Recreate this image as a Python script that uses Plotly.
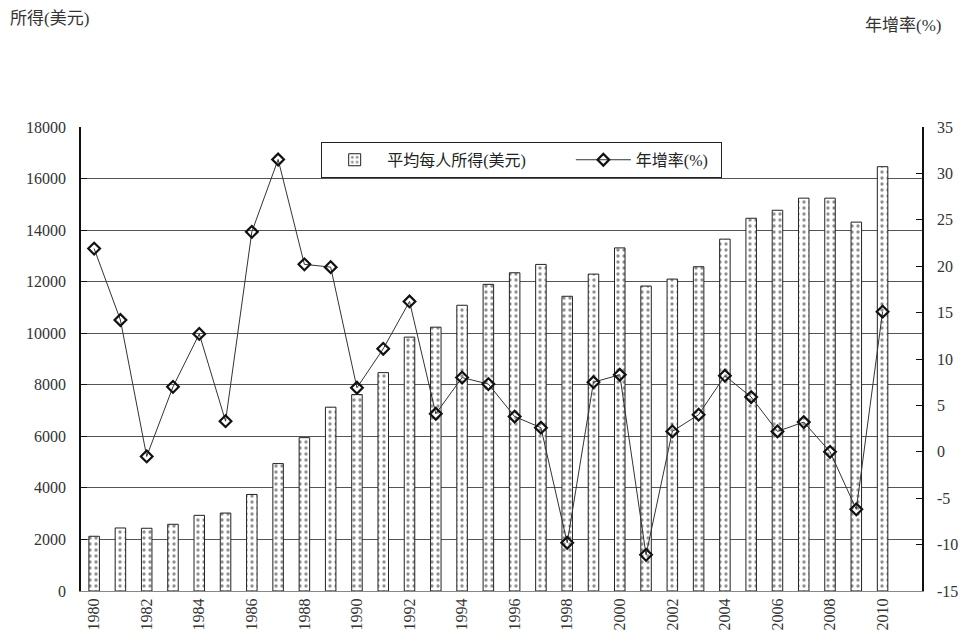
import plotly.graph_objects as go

# Per-capita income (USD) and annual growth rate (%), 1980-2010
years = list(range(1980, 2011))
income = [2123, 2445, 2433, 2587, 2935, 3024, 3746, 4943, 5948, 7131,
          7621, 8471, 9849, 10235, 11085, 11896, 12345, 12669, 11433, 12294,
          13310, 11831, 12100, 12580, 13650, 14460, 14770, 15240, 15240, 14310,
          16460]
growth = [21.9, 14.2, -0.5, 7.0, 12.7, 3.3, 23.7, 31.5, 20.2, 19.9,
          6.9, 11.1, 16.2, 4.1, 8.0, 7.3, 3.8, 2.6, -9.8, 7.5,
          8.3, -11.1, 2.2, 4.0, 8.2, 5.9, 2.2, 3.2, 0.0, -6.2,
          15.1]
year_ticks = list(range(1980, 2011, 2))
left_ticks = list(range(0, 18001, 2000))
right_ticks = list(range(-15, 36, 5))

FONT = "Liberation Serif, Times New Roman, Noto Sans CJK TC, serif"
NB = "\u00a0"

fig = go.Figure()

fig.add_trace(go.Bar(
    x=years, y=income, name="平均每人所得(美元)" + NB * 10,
    width=0.4,
    marker=dict(
        color="white",
        line=dict(color="#222222", width=1),
        pattern=dict(shape=".", fgcolor="#222222", bgcolor="white",
                     size=6, solidity=0.25),
    ),
    yaxis="y",
))

fig.add_trace(go.Scatter(
    x=years, y=growth, name="年增率(%)" + NB * 2,
    mode="lines+markers",
    line=dict(color="#333333", width=1),
    marker=dict(symbol="diamond-open", size=9, color="#111111",
                line=dict(color="#111111", width=2.2)),
    yaxis="y2",
))

fig.update_layout(
    width=970, height=642,
    margin=dict(l=81, r=43, t=127, b=49),
    paper_bgcolor="white", plot_bgcolor="white",
    font=dict(family=FONT, size=16, color="#222222"),
    showlegend=True,
    legend=dict(
        orientation="h", x=0.524, xanchor="center", y=0.968, yanchor="top",
        bordercolor="#222222", borderwidth=1, bgcolor="white",
        font=dict(family=FONT, size=16, color="#222222"),
        itemwidth=55, tracegroupgap=0,
    ),
    xaxis=dict(
        range=[1979.5, 2011.5],
        tickmode="array", tickvals=year_ticks,
        ticktext=[str(y) for y in year_ticks],
        tickangle=-90, ticks="", showgrid=False,
        showline=True, linecolor="#888888", linewidth=1,
        tickfont=dict(family=FONT, size=16, color="#333333"),
        zeroline=False,
    ),
    yaxis=dict(
        range=[0, 18000], tickmode="array", tickvals=left_ticks,
        ticktext=[str(v) for v in left_ticks],
        showgrid=True, gridcolor="#555555", gridwidth=1,
        ticks="inside", ticklen=6, tickcolor="#111111",
        showline=True, linecolor="#111111", linewidth=1.5,
        tickfont=dict(family=FONT, size=16, color="#333333"),
        ticklabelstandoff=10, zeroline=False,
    ),
    yaxis2=dict(
        range=[-15, 35], tickmode="array", tickvals=right_ticks,
        ticktext=[str(v) for v in right_ticks],
        overlaying="y", side="right", showgrid=False,
        ticks="inside", ticklen=6, tickcolor="#111111",
        showline=True, linecolor="#111111", linewidth=1.5,
        tickfont=dict(family=FONT, size=16, color="#333333"),
        ticklabelstandoff=10, zeroline=False,
    ),
    annotations=[
        dict(text="所得(美元)", xref="paper", yref="paper",
             x=(8 - 81) / 846, y=(642 - 49 - 18) / 466, xanchor="left", yanchor="middle",
             showarrow=False, font=dict(family=FONT, size=17, color="#333333")),
        dict(text="年增率(%)", xref="paper", yref="paper",
             x=(948 - 81) / 846, y=(642 - 49 - 25) / 466, xanchor="right", yanchor="middle",
             showarrow=False, font=dict(family=FONT, size=17, color="#333333")),
    ],
)

fig.write_html("out.html")
